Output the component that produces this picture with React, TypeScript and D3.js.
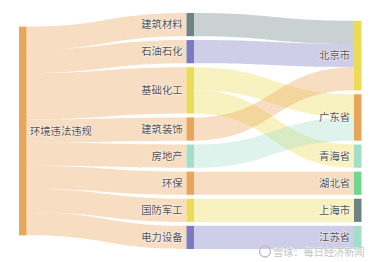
import React from "react";
import * as d3 from "d3";

// chart data
const sourceName = "环境违法违规";
const industries = ["建筑材料", "石油石化", "基础化工", "建筑装饰", "房地产", "环保", "国防军工", "电力设备"];
const regions = ["北京市", "广东省", "青海省", "湖北省", "上海市", "江苏省"];
const flowFrom = ["建筑材料", "石油石化", "基础化工", "基础化工", "建筑装饰", "房地产", "环保", "国防军工", "电力设备"];
const flowTo = ["北京市", "北京市", "广东省", "青海省", "北京市", "广东省", "湖北省", "上海市", "江苏省"];
const flowValue = [1, 1, 1, 1, 1, 1, 1, 1, 1];

const sourceColor = "#e8a55c";
const industryColors = ["#6f8384", "#7a7bc0", "#ebdc55", "#e8a55c", "#a3dfc8", "#e8a55c", "#ebdc55", "#7a7bc0"];
const regionColors = ["#ebdc55", "#e8a55c", "#a3dfc8", "#72d78e", "#6f8384", "#a3dfc8"];

const W = 380;
const H = 262;
const top = 13;
const bottom = 249;
const nodePad = 3.9;
const nodeW = 7.5;
const colAlign = ["center", "top", "bottom"];

type Node = { name: string; depth: number; value: number; color: string; x0: number; x1: number; y0: number; y1: number; outY: number; inY: number };
type Link = { s: Node; t: Node; value: number; sy: number; ty: number; w: number };

function layout() {
  const links0 = flowFrom.map((f, i) => ({ from: f, to: flowTo[i], value: flowValue[i] }));
  const indValue = industries.map(n => d3.sum(links0.filter(l => l.from === n), l => l.value));
  const regValue = regions.map(n => d3.sum(links0.filter(l => l.to === n), l => l.value));
  const total = d3.sum(indValue);

  const columns: Node[][] = [
    [{ name: sourceName, depth: 0, value: total, color: sourceColor } as Node],
    industries.map((n, i) => ({ name: n, depth: 1, value: indValue[i], color: industryColors[i] } as Node)),
    regions.map((n, i) => ({ name: n, depth: 2, value: regValue[i], color: regionColors[i] } as Node)),
  ];

  const maxNodes = d3.max(columns, c => c.length)!;
  const k = (bottom - top - (maxNodes - 1) * nodePad) / total;
  const xScale = d3.scalePoint<number>().domain([0, 1, 2]).range([19, 354]);

  columns.forEach((col, d) => {
    const h = d3.sum(col, n => n.value) * k + (col.length - 1) * nodePad;
    let y = colAlign[d] === "top" ? top : colAlign[d] === "bottom" ? bottom - h : (top + bottom) / 2 - h / 2;
    col.forEach(n => {
      n.x0 = xScale(d)!;
      n.x1 = n.x0 + nodeW;
      n.y0 = y;
      n.y1 = y + n.value * k;
      n.outY = n.y0;
      n.inY = n.y0;
      y = n.y1 + nodePad;
    });
  });

  const byName = new Map<string, Node>();
  columns.flat().forEach(n => byName.set(n.name, n));

  const links: Link[] = [];
  columns[1].forEach(n => links.push({ s: columns[0][0], t: n, value: n.value, sy: 0, ty: 0, w: 0 }));
  links0.forEach(l => links.push({ s: byName.get(l.from)!, t: byName.get(l.to)!, value: l.value, sy: 0, ty: 0, w: 0 }));

  // stack links at source ordered by target position, at target by source position
  d3.sort(links, l => l.t.y0).forEach(l => {
    l.w = l.value * k;
    l.sy = l.s.outY + l.w / 2;
    l.s.outY += l.w;
  });
  d3.sort(links, l => l.s.y0).forEach(l => {
    l.ty = l.t.inY + l.w / 2;
    l.t.inY += l.w;
  });

  return { nodes: columns.flat(), links };
}

function ribbon(l: Link) {
  const x0 = l.s.x1;
  const x1 = l.t.x0;
  const xm = x0 + (x1 - x0) * 0.5;
  const a0 = l.sy - l.w / 2, b0 = l.sy + l.w / 2;
  const a1 = l.ty - l.w / 2, b1 = l.ty + l.w / 2;
  const p = d3.path();
  p.moveTo(x0, a0);
  p.bezierCurveTo(xm, a0, xm, a1, x1, a1);
  p.lineTo(x1, b1);
  p.bezierCurveTo(xm, b1, xm, b0, x0, b0);
  p.closePath();
  return p.toString();
}

export default function App() {
  const { nodes, links } = layout();
  const font = "'Noto Sans CJK SC', 'Noto Sans', sans-serif";

  return (
    <svg width={W} height={H} style={{ position: "absolute", left: 0, top: 0, background: "#fff" }} fontFamily={font}>
      {links.map((l, i) => (
        <path key={`l-${i}`} d={ribbon(l)} fill={l.s.color} fillOpacity={0.37} />
      ))}
      {nodes.map((n, i) => (
        <rect key={`n-${i}`} x={n.x0} y={n.y0} width={n.x1 - n.x0} height={n.y1 - n.y0} fill={n.color} />
      ))}
      {nodes.map((n, i) => {
        const left = n.depth === 0;
        return (
          <text
            key={`t-${i}`}
            x={left ? n.x1 + 3.5 : n.x0 - 4}
            y={(n.y0 + n.y1) / 2}
            dy="0.35em"
            textAnchor={left ? "start" : "end"}
            fontSize={10.3}
            fill="#555"
            stroke="#fff"
            strokeWidth={1.2}
            strokeOpacity={0.6}
            paintOrder="stroke"
          >
            {n.name}
          </text>
        );
      })}
      {/* watermark */}
      <g>
        <circle cx={265} cy={251.5} r={5.5} fill="none" stroke="#bdbdbd" strokeWidth={1.3} />
        <text x={273} y={252} dy="0.35em" fontSize={10.2} fill="#c4c4c4" stroke="#fff" strokeWidth={0.5} paintOrder="stroke">
          雪球：每日经济新闻
        </text>
      </g>
    </svg>
  );
}
